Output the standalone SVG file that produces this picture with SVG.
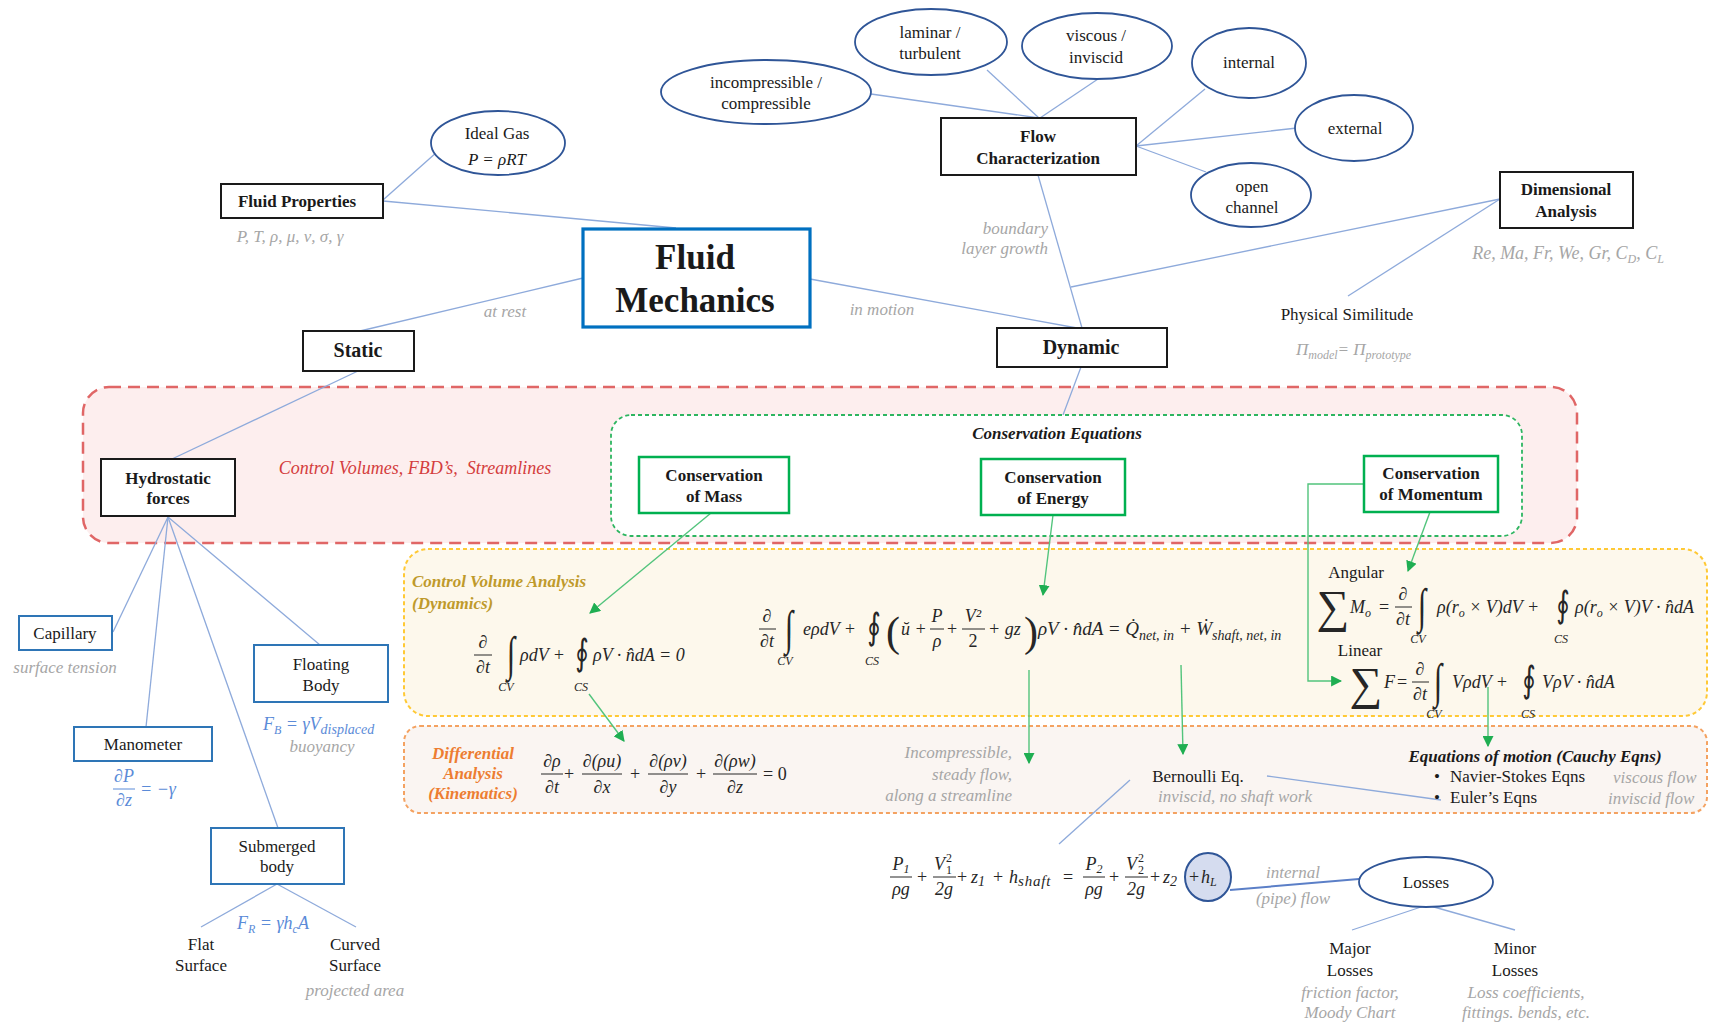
<svg xmlns="http://www.w3.org/2000/svg" width="1709" height="1023" viewBox="0 0 1709 1023">
<defs>
<style>
text{font-family:"Liberation Serif","DejaVu Serif",serif;fill:#1a1a1a;font-size:17px}
.c{text-anchor:middle}
.e{text-anchor:end}
.b{font-weight:bold}
.i{font-style:italic}
.g{fill:#a6a6a6;font-style:italic}
.m{font-style:italic;font-size:18px;fill:#262626}
.u{font-style:normal}
.s{font-size:12px}
.sb{font-size:14px}
.int{font-size:30px;font-style:normal;fill:#262626;text-anchor:middle}
.oi{font-family:"DejaVu Serif","DejaVu Sans",serif;font-size:26px;font-style:normal;fill:#262626;text-anchor:middle}
.bl{fill:#5b8bd8}
.box{fill:#fff;stroke:#1a1a1a;stroke-width:2}
.bb{fill:#fff;stroke:#2e75b6;stroke-width:2}
.gb{fill:#fff;stroke:#00b050;stroke-width:2.5}
.el{fill:#fff;stroke:#2f5597;stroke-width:1.8}
.cn line{stroke:#8eaadb;stroke-width:1.3}
.ga{stroke:#52c47c;stroke-width:1.4;fill:none;marker-end:url(#ah)}
.fb{stroke:#262626;stroke-width:1}
</style>
<marker id="ah" viewBox="0 0 10 10" refX="9" refY="5" markerWidth="11" markerHeight="11" markerUnits="userSpaceOnUse" orient="auto"><path d="M0,0 L10,5 L0,10 z" fill="#1fae52"/></marker>
</defs>
<rect width="1709" height="1023" fill="#fff"/>

<g id="regions">
<rect x="83" y="387" width="1494" height="156" rx="26" fill="#fdeeee" stroke="#e06666" stroke-width="2.5" stroke-dasharray="12 7"/>
<rect x="611" y="415" width="911" height="121" rx="20" fill="#fff" stroke="#2db560" stroke-width="1.8" stroke-dasharray="4 3"/>
<rect x="404" y="549" width="1303" height="167" rx="24" fill="#fdf8ec" stroke="#ffc935" stroke-width="2" stroke-dasharray="4 3"/>
<rect x="404" y="726" width="1303" height="87" rx="16" fill="#faf5f2" stroke="#f4a261" stroke-width="2" stroke-dasharray="4 3"/>
</g>

<g id="connectors" class="cn">
<line x1="383" y1="200" x2="437" y2="152"/>
<line x1="383" y1="201" x2="676" y2="228"/>
<line x1="583" y1="278" x2="360" y2="331"/>
<line x1="810" y1="279" x2="1077" y2="328"/>
<line x1="1038" y1="175" x2="1082" y2="328"/>
<line x1="1500" y1="199" x2="1071" y2="287"/>
<line x1="1500" y1="199" x2="1348" y2="296"/>
<line x1="1039" y1="118" x2="871" y2="94"/>
<line x1="1039" y1="118" x2="987" y2="70"/>
<line x1="1040" y1="118" x2="1098" y2="79"/>
<line x1="1136" y1="146" x2="1205" y2="89"/>
<line x1="1136" y1="146" x2="1297" y2="128"/>
<line x1="1136" y1="146" x2="1206" y2="172"/>
<line x1="1081" y1="367" x2="1063" y2="415"/>
<line x1="358" y1="371" x2="172" y2="459"/>
<line x1="168" y1="517" x2="113" y2="632"/>
<line x1="168" y1="517" x2="146" y2="727"/>
<line x1="168" y1="517" x2="278" y2="828"/>
<line x1="168" y1="517" x2="320" y2="645"/>
<line x1="277" y1="884" x2="201" y2="927"/>
<line x1="277" y1="884" x2="356" y2="927"/>
<line x1="1130" y1="780" x2="1059" y2="844"/>
<line x1="1267" y1="776" x2="1441" y2="800"/>
<line x1="1230" y1="890" x2="1359" y2="879" style="stroke:#5b7fc7;stroke-width:2"/>
<line x1="1427" y1="905" x2="1352" y2="930"/>
<line x1="1427" y1="905" x2="1515" y2="930"/>
<path class="ga" d="M711,513 L590,613"/>
<path class="ga" d="M589,694 L624,741"/>
<path class="ga" d="M1053,515 L1043,595"/>
<path class="ga" d="M1029,670 L1029,763"/>
<path class="ga" d="M1181,665 L1183,754"/>
<path class="ga" d="M1430,512 L1408,571"/>
<path class="ga" d="M1364,484 L1308,484 L1308,681 L1341,681"/>
<path class="ga" d="M1488,687 L1488,746"/>
</g>

<g id="n-incomp"><ellipse class="el" cx="766" cy="92" rx="105" ry="32"/><text class="c" x="766" y="88">incompressible /</text><text class="c" x="766" y="109">compressible</text></g>
<g id="n-laminar"><ellipse class="el" cx="931" cy="42" rx="76" ry="33"/><text class="c" x="930" y="38">laminar /</text><text class="c" x="930" y="59">turbulent</text></g>
<g id="n-viscous"><ellipse class="el" cx="1097" cy="46" rx="75" ry="33"/><text class="c" x="1096" y="41">viscous /</text><text class="c" x="1096" y="63">inviscid</text></g>
<g id="n-internal"><ellipse class="el" cx="1249" cy="63" rx="57" ry="35"/><text class="c" x="1249" y="68">internal</text></g>
<g id="n-external"><ellipse class="el" cx="1354" cy="128" rx="59" ry="33"/><text class="c" x="1355" y="134">external</text></g>
<g id="n-open"><ellipse class="el" cx="1251" cy="195" rx="60" ry="32"/><text class="c" x="1252" y="192">open</text><text class="c" x="1252" y="213">channel</text></g>
<g id="n-idealgas"><ellipse class="el" cx="498" cy="143" rx="67" ry="32"/><text class="c" x="497" y="139">Ideal Gas</text><text class="c i" x="497" y="165">P = ρRT</text></g>

<g id="n-flowchar"><rect class="box" x="941" y="118" width="195" height="57"/><text class="c b" x="1038" y="142">Flow</text><text class="c b" x="1038" y="164">Characterization</text></g>
<g id="n-fluidprops"><rect class="box" x="221" y="184" width="162" height="34"/><text class="c b" x="297" y="207">Fluid Properties</text><text class="g c" x="290" y="242">P, T, ρ, μ, ν, σ, γ</text></g>
<g id="n-fm"><rect x="583" y="229" width="227" height="98" fill="#fff" stroke="#0070c0" stroke-width="3.2"/><text class="c b" x="695" y="269" style="font-size:35px">Fluid</text><text class="c b" x="695" y="312" style="font-size:35px">Mechanics</text></g>
<g id="n-static"><rect class="box" x="303" y="331" width="111" height="40"/><text class="c b" x="358" y="357" style="font-size:20px">Static</text></g>
<g id="n-dynamic"><rect class="box" x="997" y="328" width="170" height="39"/><text class="c b" x="1081" y="354" style="font-size:20px">Dynamic</text></g>
<g id="n-dim"><rect class="box" x="1500" y="172" width="133" height="56"/><text class="c b" x="1566" y="195">Dimensional</text><text class="c b" x="1566" y="217">Analysis</text><text class="g c" x="1568" y="259" style="font-size:18px">Re, Ma, Fr, We, Gr, C<tspan class="s" dy="4">D</tspan><tspan dy="-4">, C</tspan><tspan class="s" dy="4">L</tspan></text></g>
<g id="n-simil"><text class="c" x="1347" y="320">Physical Similitude</text><text class="g" x="1296" y="355">Π<tspan class="s" dy="4">model</tspan><tspan dy="-4">= Π</tspan><tspan class="s" dy="4">prototype</tspan></text></g>

<g id="edge-labels">
<text class="g c" x="505" y="317">at rest</text>
<text class="g c" x="882" y="315">in motion</text>
<text class="g e" x="1048" y="234">boundary</text>
<text class="g e" x="1048" y="254">layer growth</text>
</g>

<g id="n-hydro"><rect class="box" x="101" y="459" width="134" height="57"/><text class="c b" x="168" y="484">Hydrostatic</text><text class="c b" x="168" y="504">forces</text></g>
<text class="i c" x="415" y="474" style="fill:#d43d3d;font-size:18px">Control Volumes, FBD’s,&#160; Streamlines</text>
<text class="i b c" x="1057" y="439" style="font-size:17px">Conservation Equations</text>
<g id="n-mass"><rect class="gb" x="639" y="457" width="150" height="56"/><text class="c b" x="714" y="481">Conservation</text><text class="c b" x="714" y="502">of Mass</text></g>
<g id="n-energy"><rect class="gb" x="981" y="459" width="144" height="56"/><text class="c b" x="1053" y="483">Conservation</text><text class="c b" x="1053" y="504">of Energy</text></g>
<g id="n-momentum"><rect class="gb" x="1364" y="456" width="134" height="56"/><text class="c b" x="1431" y="479">Conservation</text><text class="c b" x="1431" y="500">of Momentum</text></g>

<g id="n-capillary"><rect class="bb" x="19" y="616" width="93" height="34"/><text class="c" x="65" y="639">Capillary</text><text class="g c" x="65" y="673">surface tension</text></g>
<g id="n-manometer"><rect class="bb" x="74" y="727" width="138" height="34"/><text class="c" x="143" y="750">Manometer</text>
<text class="m bl c" x="124" y="782">∂P</text><line x1="113" y1="789" x2="135" y2="789" stroke="#5b8bd8"/><text class="m bl c" x="124" y="806">∂z</text><text class="m bl" x="140" y="795">= −γ</text></g>
<g id="n-floating"><rect class="bb" x="254" y="645" width="134" height="57"/><text class="c" x="321" y="670">Floating</text><text class="c" x="321" y="691">Body</text>
<text class="m bl" x="263" y="730">F<tspan class="s" dy="4">B</tspan><tspan dy="-4"> = γV</tspan><tspan class="sb" dy="4">displaced</tspan></text><text class="g c" x="322" y="752">buoyancy</text></g>
<g id="n-submerged"><rect class="bb" x="211" y="828" width="133" height="56"/><text class="c" x="277" y="852">Submerged</text><text class="c" x="277" y="872">body</text>
<text class="m bl" x="237" y="929">F<tspan class="s" dy="4">R</tspan><tspan dy="-4"> = γh</tspan><tspan class="s" dy="4">c</tspan><tspan dy="-4">A</tspan></text></g>
<g id="n-flat"><text class="c" x="201" y="950">Flat</text><text class="c" x="201" y="971">Surface</text></g>
<g id="n-curved"><text class="c" x="355" y="950">Curved</text><text class="c" x="355" y="971">Surface</text><text class="g c" x="355" y="996">projected area</text></g>

<g id="cv-label"><text class="i b" x="412" y="587" style="fill:#bf9a2b">Control Volume Analysis</text><text class="i b" x="412" y="609" style="fill:#bf9a2b">(Dynamics)</text></g>
<g id="diff-label"><text class="i b c" x="473" y="759" style="fill:#ed7d31">Differential</text><text class="i b c" x="473" y="779" style="fill:#ed7d31">Analysis</text><text class="i b c" x="473" y="799" style="fill:#ed7d31">(Kinematics)</text></g>

<g id="eq-mass">
<text class="m c" x="483" y="648">∂</text><line class="fb" x1="474" y1="655" x2="492" y2="655"/><text class="m c" x="483" y="673">∂t</text>
<text class="int" transform="translate(511,670) scale(1,1.6)">∫</text><text class="m s c" x="506" y="691">CV</text>
<text class="m" x="520" y="661">ρdV +</text>
<text class="oi" transform="translate(582,665) scale(1,1.4)">∮</text><text class="m s c" x="581" y="691">CS</text>
<text class="m" x="593" y="661">ρV · n̂dA = 0</text>
</g>

<g id="eq-energy">
<text class="m c" x="767" y="622">∂</text><line class="fb" x1="759" y1="629" x2="776" y2="629"/><text class="m c" x="767" y="647">∂t</text>
<text class="int" transform="translate(789,644) scale(1,1.6)">∫</text><text class="m s c" x="785" y="665">CV</text>
<text class="m" x="803" y="635">eρdV +</text>
<text class="oi" transform="translate(874,639) scale(1,1.4)">∮</text><text class="m s c" x="872" y="665">CS</text>
<text class="m u" x="886" y="646" style="font-size:42px">(</text>
<text class="m" x="901" y="635">ŭ +</text>
<text class="m c" x="937" y="622">P</text><line class="fb" x1="930" y1="629" x2="944" y2="629"/><text class="m c" x="937" y="647">ρ</text>
<text class="m c u" x="952" y="635">+</text>
<text class="m c" x="973" y="622">V²</text><line class="fb" x1="962" y1="629" x2="985" y2="629"/><text class="m c u" x="973" y="647">2</text>
<text class="m" x="988" y="635">+ gz</text>
<text class="m u" x="1024" y="646" style="font-size:42px">)</text>
<text class="m" x="1038" y="635" style="font-size:19px">ρV · n̂dA = Q̇<tspan class="sb" dy="5">net, in</tspan><tspan dy="-5"> + Ẇ</tspan><tspan class="sb" dy="5">shaft, net, in</tspan></text>
</g>

<g id="eq-angular">
<text class="c" x="1356" y="578">Angular</text>
<text class="m c u" x="1333" y="622" style="font-size:46px">∑</text>
<text class="m" x="1350" y="613">M<tspan class="s" dy="4">o</tspan></text>
<text class="m c u" x="1384" y="613">=</text>
<text class="m c" x="1403" y="600">∂</text><line class="fb" x1="1395" y1="607" x2="1412" y2="607"/><text class="m c" x="1403" y="625">∂t</text>
<text class="int" transform="translate(1422,622) scale(1,1.6)">∫</text><text class="m s c" x="1418" y="643">CV</text>
<text class="m" x="1437" y="613">ρ(r<tspan class="s" dy="4">o</tspan><tspan dy="-4"> × V)dV +</tspan></text>
<text class="oi" transform="translate(1563,617) scale(1,1.4)">∮</text><text class="m s c" x="1561" y="643">CS</text>
<text class="m" x="1575" y="613">ρ(r<tspan class="s" dy="4">o</tspan><tspan dy="-4"> × V)V · n̂dA</tspan></text>
</g>

<g id="eq-linear">
<text class="c" x="1360" y="656">Linear</text>
<text class="m c u" x="1366" y="699" style="font-size:46px">∑</text>
<text class="m" x="1384" y="688">F</text>
<text class="m c u" x="1402" y="688">=</text>
<text class="m c" x="1420" y="675">∂</text><line class="fb" x1="1412" y1="682" x2="1429" y2="682"/><text class="m c" x="1420" y="700">∂t</text>
<text class="int" transform="translate(1438,697) scale(1,1.6)">∫</text><text class="m s c" x="1434" y="718">CV</text>
<text class="m" x="1452" y="688">VρdV +</text>
<text class="oi" transform="translate(1529,692) scale(1,1.4)">∮</text><text class="m s c" x="1528" y="718">CS</text>
<text class="m" x="1542" y="688">VρV · n̂dA</text>
</g>

<g id="eq-diff">
<text class="m c" x="552" y="767">∂ρ</text><line class="fb" x1="541" y1="774" x2="563" y2="774"/><text class="m c" x="552" y="793">∂t</text>
<text class="m c u" x="569" y="780">+</text>
<text class="m c" x="602" y="767">∂(ρu)</text><line class="fb" x1="582" y1="774" x2="622" y2="774"/><text class="m c" x="602" y="793">∂x</text>
<text class="m c u" x="635" y="780">+</text>
<text class="m c" x="668" y="767">∂(ρv)</text><line class="fb" x1="648" y1="774" x2="688" y2="774"/><text class="m c" x="668" y="793">∂y</text>
<text class="m c u" x="701" y="780">+</text>
<text class="m c" x="735" y="767">∂(ρw)</text><line class="fb" x1="713" y1="774" x2="757" y2="774"/><text class="m c" x="735" y="793">∂z</text>
<text class="m u" x="763" y="780">= 0</text>
</g>

<g id="bern-cond">
<text class="g e" x="1012" y="758">Incompressible,</text>
<text class="g e" x="1012" y="780">steady flow,</text>
<text class="g e" x="1012" y="801">along a streamline</text>
</g>
<g id="n-bernoulli"><text class="c" x="1198" y="782">Bernoulli Eq.</text><text class="g c" x="1235" y="802">inviscid, no shaft work</text></g>
<g id="n-cauchy">
<text class="i b c" x="1535" y="762">Equations of motion (Cauchy Eqns)</text>
<text x="1434" y="782">•</text><text x="1450" y="782">Navier-Stokes Eqns</text>
<text x="1434" y="803">•</text><text x="1450" y="803">Euler’s Eqns</text>
<text class="g" x="1613" y="783">viscous flow</text>
<text class="g" x="1608" y="804">inviscid flow</text>
</g>

<g id="eq-bern">
<text class="m c" x="901" y="870">P<tspan class="s" dy="3">1</tspan></text><line class="fb" x1="890" y1="877" x2="912" y2="877"/><text class="m c" x="901" y="895">ρg</text>
<text class="m c u" x="922" y="883">+</text>
<text class="m" x="934" y="870">V</text><text class="m s u" x="946" y="862">2</text><text class="m s u" x="946" y="874">1</text><line class="fb" x1="933" y1="877" x2="956" y2="877"/><text class="m c" x="944" y="895">2g</text>
<text class="m c u" x="962" y="883">+</text>
<text class="m" x="971" y="883">z<tspan class="sb" dy="3">1</tspan></text>
<text class="m c u" x="998" y="883">+</text>
<text class="m" x="1009" y="883">h<tspan dy="3" style="font-size:15px;letter-spacing:0.8px">shaft</tspan></text>
<text class="m c u" x="1068" y="883">=</text>
<text class="m c" x="1094" y="870">P<tspan class="s" dy="3">2</tspan></text><line class="fb" x1="1083" y1="877" x2="1105" y2="877"/><text class="m c" x="1094" y="895">ρg</text>
<text class="m c u" x="1114" y="883">+</text>
<text class="m" x="1126" y="870">V</text><text class="m s u" x="1138" y="862">2</text><text class="m s u" x="1138" y="874">2</text><line class="fb" x1="1125" y1="877" x2="1148" y2="877"/><text class="m c" x="1136" y="895">2g</text>
<text class="m c u" x="1155" y="883">+</text>
<text class="m" x="1163" y="883">z<tspan class="sb" dy="3">2</tspan></text>
<ellipse cx="1208" cy="877" rx="23" ry="24" fill="#d5dcef" stroke="#2f5597" stroke-width="2"/>
<text class="m c u" x="1194" y="883">+</text>
<text class="m" x="1201" y="883">h<tspan class="s" dy="3">L</tspan></text>
</g>

<g id="n-losses"><ellipse class="el" cx="1426" cy="882" rx="67" ry="25"/><text class="c" x="1426" y="888">Losses</text>
<text class="g c" x="1293" y="878">internal</text><text class="g c" x="1293" y="904">(pipe) flow</text></g>
<g id="n-major"><text class="c" x="1350" y="954">Major</text><text class="c" x="1350" y="976">Losses</text><text class="g c" x="1350" y="998">friction factor,</text><text class="g c" x="1350" y="1018">Moody Chart</text></g>
<g id="n-minor"><text class="c" x="1515" y="954">Minor</text><text class="c" x="1515" y="976">Losses</text><text class="g c" x="1526" y="998">Loss coefficients,</text><text class="g c" x="1526" y="1018">fittings. bends, etc.</text></g>
</svg>
